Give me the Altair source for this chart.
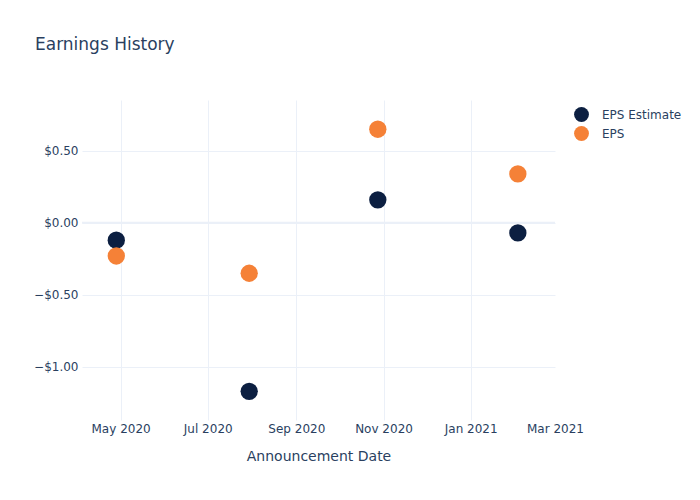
import altair as alt
import pandas as pd

dates = ["2020-04-28", "2020-07-30", "2020-10-28", "2021-02-03"]
eps_estimate = [-0.12, -1.17, 0.16, -0.07]
eps_actual = [-0.23, -0.35, 0.65, 0.34]
series_names = ["EPS Estimate", "EPS"]
series_colors = ["#0c1f41", "#f58137"]

rows = []
for d, v in zip(dates, eps_estimate):
    rows.append({"date": d, "value": v, "series": series_names[0]})
for d, v in zip(dates, eps_actual):
    rows.append({"date": d, "value": v, "series": series_names[1]})
df = pd.DataFrame(rows)
df["order"] = df["series"].map({series_names[0]: 0, series_names[1]: 1})

FONT = "DejaVu Sans"
TXT = "#2a3f5f"
GRID = "#ebf0f8"
Y_DOMAIN = [-1.369, 0.853]

x_ticks = [alt.DateTime(year=y, month=m, date=1, utc=True)
           for y, m in [(2020, 5), (2020, 7), (2020, 9), (2020, 11), (2021, 1), (2021, 3)]]

x_enc = alt.X(
    "date:T",
    title="Announcement Date",
    scale=alt.Scale(type="utc",
                    domain=[alt.DateTime(year=2020, month=4, date=4, utc=True),
                            alt.DateTime(year=2021, month=3, date=1, utc=True)]),
    axis=alt.Axis(values=x_ticks, labelExpr="utcFormat(datum.value, '%b %Y')",
                  domain=False, ticks=False, labelPadding=3, titlePadding=15,
                  labelFlush=False, labelOverlap=False, labelBound=False,
                  gridColor=GRID,
                  gridOpacity={"condition": {"test": "utcmonth(datum.value) == 2", "value": 0},
                               "value": 1},
                  labelFontSize=12, titleFontSize=14,
                  titleFontWeight="normal", labelColor=TXT, titleColor=TXT,
                  labelFont=FONT, titleFont=FONT),
)
y_enc = alt.Y(
    "value:Q",
    title=None,
    scale=alt.Scale(domain=Y_DOMAIN, nice=False, zero=False),
    axis=alt.Axis(values=[-1.0, -0.5, 0.0, 0.5], format="$.2f",
                  domain=False, ticks=False, labelPadding=4,
                  gridColor=GRID, labelFontSize=12, labelColor=TXT, labelFont=FONT),
)

zero = alt.Chart(pd.DataFrame({"z": [0.0]})).mark_rule(
    color=GRID, strokeWidth=2
).encode(y=alt.Y("z:Q", scale=alt.Scale(domain=Y_DOMAIN, nice=False, zero=False)))

points = alt.Chart(df).mark_circle(size=300, opacity=1).encode(
    x=x_enc,
    y=y_enc,
    color=alt.Color(
        "series:N",
        scale=alt.Scale(domain=series_names, range=series_colors),
        legend=alt.Legend(title=None, orient="none", legendX=491, legendY=6,
                          symbolSize=220, symbolType="circle", labelFontSize=12,
                          labelColor=TXT, labelFont=FONT, padding=0, rowPadding=3,
                          labelOffset=12),
    ),
    order=alt.Order("order:Q"),
)

chart = alt.layer(zero, points).properties(
    width=473,
    height=320,
    background="white",
    autosize=alt.AutoSizeParams(type="none"),
    padding={"left": 82, "top": 100, "right": 145, "bottom": 80},
    title=alt.TitleParams("Earnings History", anchor="start", frame="group",
                          dx=-47, offset=46, fontSize=17, fontWeight="normal",
                          color=TXT, font=FONT),
).configure_view(strokeWidth=0, stroke="transparent")

chart.save("out.html", embed_options={"renderer": "svg", "actions": False})
